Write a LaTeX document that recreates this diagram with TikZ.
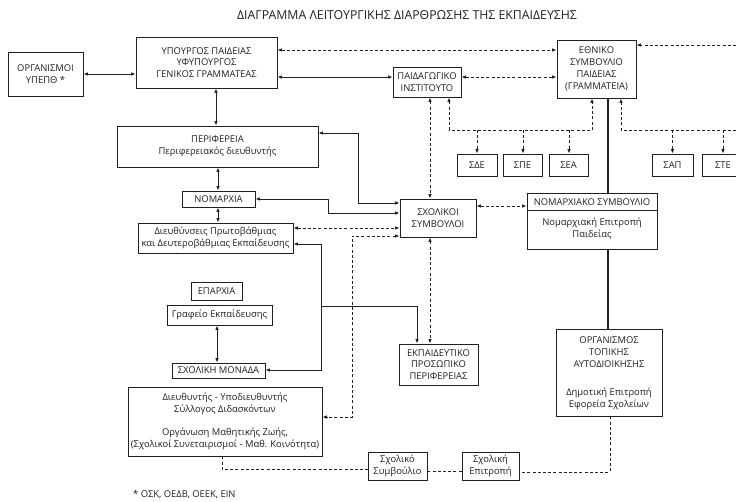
\documentclass[tikz,border=0pt]{standalone}
\usepackage{fontspec}
\setmainfont{Open Sans}
\usetikzlibrary{arrows.meta,calc}
\definecolor{ink}{HTML}{231F20}
\newcommand{\bx}[6]{\node[box, minimum width={#4-#2}, minimum height={#5-#3}] (#1) at ({(#2+#4)/2},{(#3+#5)/2}) {#6};}
\begin{document}
\begin{tikzpicture}[x=1pt,y=-1pt,
  >={Latex[length=4.5pt,width=3.6pt]},
  every node/.style={font=\fontsize{9.4}{11.8}\selectfont, text=ink, inner sep=0pt},
  box/.style={draw=ink, line width=0.9pt, align=center},
  ln/.style={draw=ink, line width=0.9pt},
  dsh/.style={draw=ink, line width=0.9pt, dash pattern=on 3pt off 2.2pt},
  heavy/.style={draw=ink, line width=1.8pt}]
\clip (0,0) rectangle (736,502);
\fill[white] (0,0) rectangle (736,502);
\node[font=\fontsize{12.3}{14}\selectfont] (title) at (407,15) {ΔΙΑΓΡΑΜΜΑ ΛΕΙΤΟΥΡΓΙΚΗΣ ΔΙΑΡΘΡΩΣΗΣ ΤΗΣ ΕΚΠΑΙΔΕΥΣΗΣ};
% boxes
\bx{org}{8}{52}{83}{96}{ΟΡΓΑΝΙΣΜΟΙ\\ΥΠΕΠΘ *}
\bx{ypo}{136}{37}{277}{88}{ΥΠΟΥΡΓΟΣ ΠΑΙΔΕΙΑΣ\\ΥΦΥΠΟΥΡΓΟΣ\\ΓΕΝΙΚΟΣ ΓΡΑΜΜΑΤΕΑΣ}
\bx{pi}{393}{67}{461}{97}{ΠΑΙΔΑΓΩΓΙΚΟ\\ΙΝΣΤΙΤΟΥΤΟ}
\bx{esp}{557}{40}{636}{98}{ΕΘΝΙΚΟ\\ΣΥΜΒΟΥΛΙΟ\\ΠΑΙΔΕΙΑΣ\\(ΓΡΑΜΜΑΤΕΙΑ)}
\bx{per}{117}{126}{318}{167}{ΠΕΡΙΦΕΡΕΙΑ\\Περιφερειακός διευθυντής}
\bx{nom}{182}{191}{255}{207}{ΝΟΜΑΡΧΙΑ}
\bx{dieu}{138}{223}{293}{253}{Διευθύνσεις Πρωτοβάθμιας\\και Δευτεροβάθμιας Εκπαίδευσης}
\bx{sde}{457}{154}{497}{176}{ΣΔΕ}
\bx{spe}{503}{154}{542}{176}{ΣΠΕ}
\bx{sea}{549}{154}{588}{176}{ΣΕΑ}
\bx{sap}{652}{154}{693}{176}{ΣΑΠ}
\bx{ste}{702}{154}{744}{176}{ΣΤΕ}
\bx{sxs}{400}{199}{476}{237}{ΣΧΟΛΙΚΟΙ\\ΣΥΜΒΟΥΛΟΙ}
\bx{nsy}{527}{193}{657}{249}{}
\node (nsyt) at (592,202) {ΝΟΜΑΡΧΙΑΚΟ ΣΥΜΒΟΥΛΙΟ};
\node[align=center] (nsyb) at (592,229) {Νομαρχιακή Επιτροπή\\Παιδείας};
\draw[ln] (nsy.west |- 0,210) -- (nsy.east |- 0,210);
\bx{epar}{191}{282}{242}{300}{ΕΠΑΡΧΙΑ}
\bx{graf}{167}{305}{272}{325}{Γραφείο Εκπαίδευσης}
\bx{smon}{172}{363}{265}{378}{ΣΧΟΛΙΚΗ ΜΟΝΑΔΑ}
\bx{dir}{128}{387}{322}{456}{Διευθυντής - Υποδιευθυντής\\Σύλλογος Διδασκόντων\\[11pt]Οργάνωση Μαθητικής Ζωής,\\(Σχολικοί Συνεταιρισμοί - Μαθ. Κοινότητα)}
\bx{ekp}{399}{344}{478}{385}{ΕΚΠΑΙΔΕΥΤΙΚΟ\\ΠΡΟΣΩΠΙΚΟ\\ΠΕΡΙΦΕΡΕΙΑΣ}
\bx{ota}{556}{329}{662}{416}{}
\node[align=center] (otat) at (609,352) {ΟΡΓΑΝΙΣΜΟΣ\\ΤΟΠΙΚΗΣ\\ΑΥΤΟΔΙΟΙΚΗΣΗΣ};
\node[align=center] (otab) at (609,398.5) {Δημοτική Επιτροπή\\Εφορεία Σχολείων};
\bx{ssym}{368}{452}{427}{480}{Σχολικό\\Συμβούλιο}
\bx{sepi}{462}{452}{519}{480}{Σχολική\\Επιτροπή}
\node[anchor=west] (foot) at (133,495) {* ΟΣΚ, ΟΕΔΒ, ΟΕΕΚ, ΕΙΝ};
% free ends
\coordinate (r45) at (736,45);
\coordinate (r130) at (736,130);
% top connectors
\draw[ln,<->] (org.east) -- (org.east -| ypo.west);
\draw[dsh,<->] (ypo.east |- 0,50) -- (esp.west |- 0,50);
\draw[ln,<->] (ypo.east |- 0,77) -- (pi.west |- 0,77);
\draw[dsh,<->] (pi.east |- 0,77) -- (esp.west |- 0,77);
\draw[dsh,->] (r45) -- (esp.east |- r45);
\draw[ln,<->] (216,0 |- ypo.south) -- (216,0 |- per.north);
\draw[ln,<->] (218,0 |- per.south) -- (218,0 |- nom.north);
\draw[ln,<->] (218,0 |- nom.south) -- (218,0 |- dieu.north);
% PI / ESP to councils
\draw[dsh,<->] (430,0 |- pi.south) -- (430,0 |- sxs.north);
\draw[dsh,<->] (449,0 |- pi.south) -- (449,130) -- (592,130) -- (592,0 |- esp.south);
\draw[dsh,->] (477,130) -- (477,0 |- sde.north);
\draw[dsh,->] (523,130) -- (523,0 |- spe.north);
\draw[dsh,->] (569,130) -- (569,0 |- sea.north);
\draw[dsh,->] (r130) -- (621,130) -- (621,0 |- esp.south);
\draw[dsh,->] (672.5,130) -- (672.5,0 |- sap.north);
\draw[dsh,->] (723,130) -- (723,0 |- ste.north);
\draw[heavy] (608,0 |- esp.south) -- (608,0 |- nsy.north);
\draw[heavy] (608,0 |- nsy.south) -- (608,0 |- ota.north);
\draw[dsh,<->] (sxs.east |- 0,206) -- (nsy.west |- 0,206);
% into school advisors
\draw[ln,<->] (per.east |- 0,133) -- (358,133) -- (358,203) -- (sxs.west |- 0,203);
\draw[ln,<->] (nom.east |- 0,199) -- (328,199) -- (328,213) -- (sxs.west |- 0,213);
\draw[dsh,<->] (dieu.east |- 0,228) -- (sxs.west |- 0,228);
\draw[dsh,<->] (sxs.west |- 0,236) -- (352,236) -- (352,417) -- (dir.east |- 0,417);
\draw[dsh,<->] (430,0 |- sxs.south) -- (430,0 |- ekp.north);
% staff
\draw[ln,<->] (dieu.east |- 0,244) -- (321,244) -- (321,370) -- (smon.east |- 0,370);
\draw[ln,->] (321,306) -- (417,306) -- (417,0 |- ekp.north);
\draw[ln,<->] (217,0 |- graf.south) -- (217,0 |- smon.north);
% bottom
\draw[dsh] (610,0 |- ota.south) -- (610,472) -- (sepi.east |- 0,472);
\draw[dsh] (sepi.west |- 0,471) -- (ssym.east |- 0,471);
\draw[dsh] (222,0 |- dir.south) -- (222,469) -- (ssym.west |- 0,469);
\end{tikzpicture}
\end{document}
